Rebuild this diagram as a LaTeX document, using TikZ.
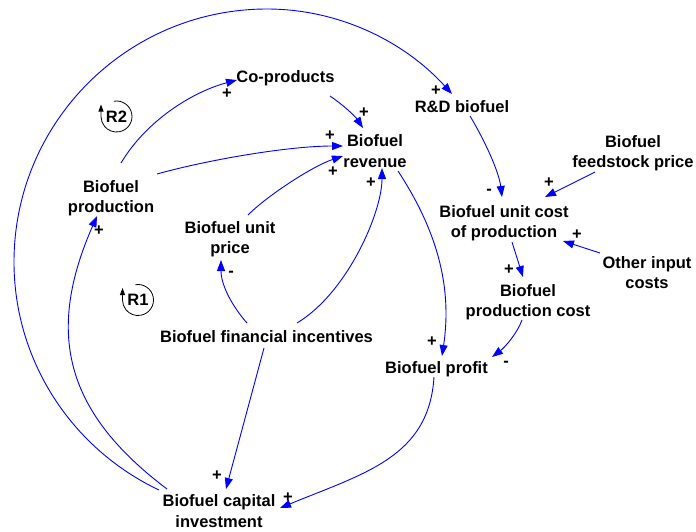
\documentclass[tikz,border=0pt]{standalone}
\usepackage{fontspec}
\setmainfont{Liberation Sans}
\usetikzlibrary{arrows.meta,calc}
\begin{document}
\begin{tikzpicture}[x=1pt,y=-1pt,
  var/.style={font=\bfseries\fontsize{16.5}{20.5}\selectfont, align=center, inner sep=0pt, text=black},
  sign/.style={font=\bfseries\fontsize{16.5}{20.5}\selectfont, inner sep=0pt, text=black},
  link/.style={draw=blue, line width=0.9pt, -{Triangle[length=11pt,width=8pt]}},
  loopmark/.style={draw=black, line width=0.8pt, -{Triangle[length=7pt,width=5pt]}},
]
\useasboundingbox (0,0) rectangle (696,531);

% variables
\node[var] (prod)   at (111,198)   {Biofuel\\production};
\node[var] (coprod) at (285.5,78)  {Co-products};
\node[var] (rd)     at (462,106.5) {R\&D biofuel};
\node[var] (rev)    at (375,151)   {Biofuel\\revenue};
\node[var] (price)  at (230,239)   {Biofuel unit\\price};
\node[var] (feed)   at (633,153)   {Biofuel\\feedstock price};
\node[var] (ucost)  at (504,223)   {Biofuel unit cost\\of production};
\node[var] (other)  at (647,272.5) {Other input\\costs};
\node[var] (pcost)  at (528,302)   {Biofuel\\production cost};
\node[var] (profit) at (436.5,369) {Biofuel profit};
\node[var] (incent) at (266.5,337) {Biofuel financial incentives};
\node[var] (capinv) at (219,511)   {Biofuel capital\\investment};

% reinforcing loop markers
\node[sign] (r2) at (116.5,116.5) {R2};
\draw[loopmark] ($(r2)+(-100:15.5)$) arc[start angle=-100, end angle=180, radius=15.5] -- ++(0,-12);
\node[sign] (r1) at (138,300) {R1};
\draw[loopmark] ($(r1)+(-100:15.5)$) arc[start angle=-100, end angle=180, radius=15.5] -- ++(0,-12);

% causal links
\draw[link] ($(prod)+(10,-35)$) .. controls +(25,-42) and +(-45,12) .. ($(coprod)+(-48.5,2)$);
\draw[link] ($(prod)+(46,-24)$) .. controls +(50,-14) and +(-55,0) .. ($(rev)+(-32,-5)$);
\draw[link] ($(price)+(18,-24)$) .. controls +(20,-20) and +(-30,10) .. ($(rev)+(-32,5)$);
\draw[link] ($(coprod)+(44.5,18)$) .. controls +(12,8) and +(-8,-12) .. ($(rev)+(-12,-23)$);
\draw[link] ($(incent)+(30.5,-14)$) .. controls +(50,-30) and +(0,45) .. ($(rev)+(7,17)$);
\draw[link] ($(incent)+(-19.5,-14)$) .. controls +(-15,-17) and +(0,25) .. ($(price)+(-9,21)$);
\draw[link] ($(incent)+(-2.5,11)$) -- ($(capinv)+(7,-22)$);
\draw[link] ($(rev)+(23,20)$) .. controls +(38.5,58.8) and +(10.5,-70) .. ($(profit)+(5.5,-13)$);
\draw[link] ($(profit)+(-2.5,8)$) .. controls +(-5,80) and +(85,-35) .. ($(capinv)+(61,-3)$);
\draw[link] ($(capinv)+(-52,-22)$) .. controls +(-105,-79) and +(-50,114) .. ($(prod)+(-14,18)$);
\draw[link] ($(capinv)+(-60,-21)$)
  .. controls +(-88.3,-41.9) and +(0,97.7) .. (14,262)
  .. controls +(0,-139.7) and +(-139.7,0) .. (267,9)
  .. controls +(71.4,0) and +(-48,-52.9) .. ($(rd)+(-10,-12.5)$);
\draw[link] ($(rd)+(8,9.5)$) .. controls +(15,25) and +(-3,-25) .. ($(ucost)+(-2,-26)$);
\draw[link] ($(feed)+(-38,19)$) -- ($(ucost)+(41,-26)$);
\draw[link] ($(other)+(-47,-19.5)$) -- ($(ucost)+(59,18)$);
\draw[link] ($(ucost)+(8,19)$) -- ($(pcost)+(-5,-25)$);
\draw[link] ($(pcost)+(-6,18)$) .. controls +(-5,14) and +(12,-9) .. ($(profit)+(55.5,-12)$);

% link polarities
\node[sign] at ($(coprod)+(-58.5,16)$) {+};
\node[sign] at ($(rev)+(-45,-15)$) {+};
\node[sign] at ($(rev)+(-42,21)$) {+};
\node[sign] at ($(rev)+(-11,-38)$) {+};
\node[sign] at ($(rev)+(-4,32)$) {+};
\node[sign] at ($(price)+(1,35)$) {-};
\node[sign] at ($(capinv)+(-2,-35)$) {+};
\node[sign] at ($(profit)+(-4.5,-27)$) {+};
\node[sign] at ($(capinv)+(69,-13)$) {+};
\node[sign] at ($(prod)+(-12,33)$) {+};
\node[sign] at ($(rd)+(-26,-15.5)$) {+};
\node[sign] at ($(ucost)+(-15,-31)$) {-};
\node[sign] at ($(ucost)+(45,-40)$) {+};
\node[sign] at ($(ucost)+(73,12)$) {+};
\node[sign] at ($(pcost)+(-19,-32)$) {+};
\node[sign] at ($(profit)+(69.5,-5)$) {-};
\end{tikzpicture}
\end{document}
